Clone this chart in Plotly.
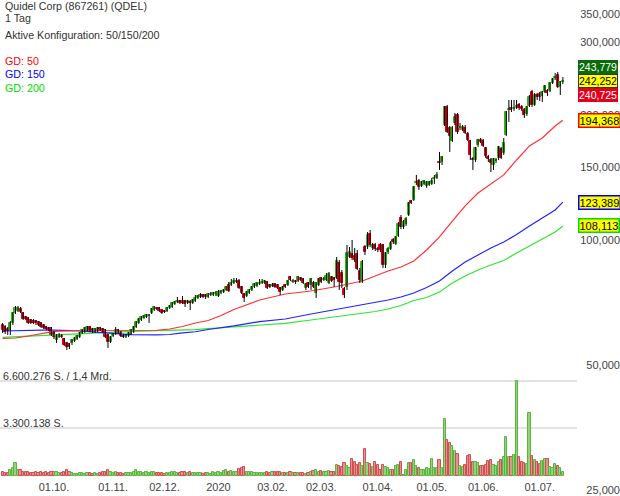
import numpy as np
import pandas as pd
import plotly.graph_objects as go

# ---------------- data ----------------
open_ = [62.40, 61.71, 61.03, 60.70, 63.10, 66.70, 67.45, 68.20, 66.70, 65.24,
         64.88, 64.16, 63.80, 63.80, 63.45, 63.10, 62.40, 61.71, 61.37, 61.37,
         60.03, 57.42, 58.39, 58.71, 57.74, 56.47, 56.16, 56.47, 57.10, 57.74,
         58.39, 59.70, 60.03, 60.70, 61.71, 61.03, 60.03, 60.36, 61.37, 61.03,
         60.70, 59.04, 56.79, 58.71, 59.37, 60.70, 60.03, 58.71, 58.39, 58.71,
         59.37, 60.03, 61.71, 63.10, 64.16, 64.88, 65.24, 65.60, 66.70, 67.82,
         68.58, 68.58, 67.82, 67.45, 67.45, 68.58, 68.96, 70.11, 70.90, 71.29,
         71.29, 71.29, 70.50, 70.90, 70.50, 71.29, 72.49, 72.89, 73.70, 73.70,
         72.89, 73.70, 73.70, 74.11, 73.30, 74.53, 74.94, 75.78, 77.91, 77.91,
         78.78, 79.22, 79.66, 77.05, 74.11, 73.30, 74.53, 75.78, 77.05, 77.48,
         78.34, 78.78, 78.78, 79.22, 77.91, 77.48, 78.34, 77.91, 76.62, 75.78,
         77.91, 77.91, 81.44, 79.22, 79.66, 79.66, 80.99, 80.54, 76.62, 78.78,
         77.91, 78.78, 74.53, 77.91, 80.99, 80.10, 80.10, 78.78, 81.44, 80.99,
         80.99, 88.02, 83.27, 76.20, 77.05, 91.00, 92.53, 91.51, 92.53, 84.20,
         79.66, 96.19, 96.19, 103.4, 95.66, 97.27, 95.13, 97.27, 97.27, 87.05,
         93.56, 95.13, 100.0, 97.80, 102.3, 113.0, 107.5, 109.3, 114.9, 124.2,
         124.9, 137.2, 138.8, 135.0, 136.5, 135.0, 135.7, 136.5, 140.3, 141.1,
         154.2, 154.2, 189.3, 209.2, 186.2, 173.2, 191.4, 200.1, 186.2, 184.1,
         186.2, 180.1, 173.2, 156.8, 155.9, 169.4, 174.2, 173.2, 166.6, 158.5,
         155.9, 151.6, 155.0, 157.6, 165.7, 162.1, 179.1, 205.7, 208.0, 206.9,
         208.0, 211.5, 209.2, 205.7, 201.2, 210.4, 227.3, 211.5, 223.6, 224.8,
         222.4, 227.3, 228.6, 228.6, 238.9, 245.7, 249.8, 233.7, 240.3]

close = [60.70, 60.03, 60.36, 63.10, 66.70, 68.58, 68.58, 67.07, 64.52, 64.52,
         63.10, 63.10, 63.10, 63.10, 62.40, 61.71, 61.37, 61.03, 60.70, 59.04,
         58.39, 59.04, 59.04, 58.39, 55.85, 55.23, 55.23, 57.42, 58.06, 58.71,
         59.70, 60.70, 61.37, 61.71, 60.36, 60.03, 61.03, 61.37, 60.70, 60.03,
         58.39, 56.79, 58.39, 59.37, 60.70, 59.70, 58.71, 58.39, 59.04, 59.70,
         60.70, 61.71, 63.45, 64.52, 65.24, 65.60, 65.96, 65.96, 68.20, 68.96,
         68.20, 67.45, 66.70, 67.07, 68.58, 69.34, 70.50, 70.90, 71.29, 70.50,
         70.50, 70.11, 71.29, 70.50, 71.69, 72.49, 73.30, 73.70, 72.89, 72.89,
         74.11, 74.11, 74.53, 74.53, 74.94, 75.36, 75.78, 77.05, 75.36, 78.78,
         79.66, 79.66, 76.62, 74.53, 72.49, 74.94, 75.78, 77.05, 78.34, 78.78,
         78.78, 79.22, 79.66, 76.62, 77.05, 77.91, 77.05, 76.62, 74.94, 77.05,
         77.05, 79.66, 80.10, 79.66, 79.22, 81.44, 80.10, 78.78, 78.34, 77.05,
         80.54, 77.05, 78.78, 80.54, 79.22, 80.54, 81.89, 82.81, 79.66, 80.10,
         89.00, 79.22, 78.78, 73.70, 93.05, 93.56, 90.50, 89.50, 85.14, 80.10,
         88.51, 93.56, 102.8, 97.27, 97.27, 95.13, 94.61, 94.61, 87.05, 93.05,
         95.13, 98.34, 98.89, 101.7, 109.3, 107.5, 110.5, 112.4, 122.8, 122.8,
         134.2, 138.0, 134.2, 138.0, 138.8, 138.0, 138.0, 138.8, 141.1, 143.5,
         153.3, 158.5, 209.2, 182.1, 178.1, 186.2, 197.9, 182.1, 187.2, 187.2,
         181.1, 174.2, 160.3, 155.9, 166.6, 174.2, 172.3, 168.5, 159.4, 156.8,
         153.3, 156.8, 155.9, 167.6, 157.6, 171.3, 203.5, 206.9, 205.7, 208.0,
         210.4, 208.0, 206.9, 200.1, 209.2, 221.1, 211.5, 223.6, 221.1, 221.1,
         227.3, 235.0, 226.1, 238.9, 244.3, 247.0, 233.7, 240.3, 242.252]

high = [63.10, 62.40, 61.71, 63.80, 67.07, 69.34, 69.34, 68.96, 67.07, 65.60,
        65.24, 64.52, 64.52, 64.16, 63.80, 63.45, 62.75, 62.05, 61.71, 61.71,
        60.36, 59.37, 59.70, 59.37, 58.06, 56.79, 56.47, 57.74, 58.39, 59.04,
        60.03, 61.03, 61.71, 62.05, 62.05, 61.37, 61.37, 61.71, 61.71, 61.37,
        61.03, 59.37, 58.71, 59.70, 61.71, 61.03, 60.36, 59.37, 59.37, 60.03,
        61.03, 62.05, 63.80, 64.88, 65.60, 65.96, 66.33, 66.33, 68.58, 69.34,
        68.96, 68.96, 68.20, 67.82, 68.96, 69.73, 70.90, 71.29, 72.89, 71.69,
        73.30, 71.69, 71.69, 71.69, 72.09, 73.70, 73.70, 74.53, 74.11, 74.11,
        74.53, 74.94, 74.94, 75.36, 75.78, 75.78, 76.20, 77.48, 79.22, 80.54,
        80.99, 80.99, 80.54, 77.48, 74.53, 75.36, 76.20, 77.48, 78.78, 79.22,
        80.54, 80.54, 80.10, 79.66, 78.34, 78.78, 78.78, 78.34, 77.05, 77.48,
        78.34, 80.10, 81.89, 80.54, 80.10, 81.89, 81.44, 80.99, 78.78, 79.22,
        80.99, 79.66, 79.22, 80.99, 81.44, 81.44, 83.27, 83.73, 81.89, 81.44,
        91.00, 89.50, 84.67, 77.05, 97.27, 96.19, 100.0, 95.66, 94.61, 85.61,
        89.50, 97.27, 104.5, 105.7, 98.34, 98.34, 96.19, 98.34, 97.80, 93.56,
        96.19, 99.45, 101.1, 102.3, 110.5, 114.9, 111.8, 113.6, 123.5, 124.9,
        135.0, 143.5, 140.3, 138.8, 139.5, 138.8, 138.8, 141.1, 143.5, 145.8,
        163.0, 159.4, 210.4, 211.5, 188.2, 188.2, 202.3, 202.3, 191.4, 189.3,
        189.3, 182.1, 174.2, 158.5, 167.6, 175.2, 176.1, 175.2, 167.6, 160.3,
        157.6, 157.6, 157.6, 168.5, 167.6, 176.1, 204.6, 217.5, 217.5, 217.5,
        217.5, 213.9, 211.5, 208.0, 210.4, 223.6, 229.9, 226.1, 226.1, 227.3,
        228.6, 236.3, 231.1, 240.3, 245.7, 252.5, 253.9, 241.6, 247.0]

low = [59.70, 59.37, 59.04, 59.04, 62.40, 66.33, 67.07, 66.70, 64.16, 64.16,
       62.75, 62.75, 62.75, 62.40, 62.05, 61.37, 61.03, 60.70, 60.36, 58.71,
       57.74, 56.47, 58.06, 58.06, 55.54, 54.32, 54.62, 55.85, 56.79, 57.42,
       58.06, 59.37, 59.70, 60.36, 60.03, 59.70, 59.70, 60.03, 60.36, 59.70,
       58.06, 54.93, 56.47, 58.39, 59.04, 59.37, 58.39, 58.06, 58.06, 58.39,
       59.04, 59.70, 61.37, 62.75, 63.80, 64.52, 64.88, 63.10, 66.33, 67.45,
       67.82, 67.07, 66.33, 66.70, 67.07, 68.20, 68.58, 69.73, 70.50, 70.11,
       70.11, 68.96, 70.11, 67.82, 70.11, 70.90, 72.09, 72.49, 72.49, 72.09,
       72.49, 73.30, 73.30, 73.30, 72.89, 74.11, 74.53, 75.36, 74.94, 77.48,
       78.34, 78.78, 76.20, 74.11, 70.90, 72.89, 74.11, 75.36, 76.62, 77.05,
       77.91, 78.34, 78.34, 76.20, 76.62, 77.05, 76.62, 76.20, 73.70, 75.36,
       76.62, 77.48, 79.66, 78.78, 78.34, 79.22, 79.66, 78.34, 75.78, 76.62,
       75.78, 76.62, 72.49, 77.48, 78.78, 79.66, 79.66, 78.34, 79.22, 77.05,
       80.54, 75.78, 76.62, 72.49, 75.78, 90.50, 89.50, 88.51, 84.67, 78.78,
       78.78, 92.02, 95.13, 96.19, 94.61, 94.09, 93.56, 93.56, 85.61, 85.61,
       92.53, 94.61, 97.80, 97.27, 101.7, 106.3, 106.3, 108.1, 114.2, 122.1,
       124.2, 135.7, 132.0, 134.2, 135.7, 133.5, 135.0, 135.7, 136.5, 140.3,
       147.5, 151.6, 188.2, 181.1, 163.0, 172.3, 189.3, 180.1, 184.1, 183.1,
       180.1, 173.2, 155.9, 147.5, 154.2, 167.6, 171.3, 167.6, 157.6, 154.2,
       145.8, 147.5, 153.3, 155.9, 156.8, 160.3, 178.1, 192.5, 203.5, 204.6,
       206.9, 205.7, 204.6, 196.8, 199.0, 209.2, 209.2, 210.4, 217.5, 216.3,
       215.1, 226.1, 222.4, 227.3, 237.6, 243.0, 232.4, 223.6, 237.6]

# daily volume, millions of shares
volume_m = [0.25, 0.20, 0.22, 0.40, 0.55, 0.88, 0.45, 0.40, 0.30, 0.25,
            0.30, 0.22, 0.20, 0.25, 0.22, 0.28, 0.20, 0.25, 0.22, 0.30,
            0.25, 0.28, 0.18, 0.20, 0.30, 0.40, 0.30, 0.20, 0.15, 0.15,
            0.20, 0.18, 0.15, 0.20, 0.18, 0.15, 0.20, 0.15, 0.18, 0.25,
            0.30, 0.45, 0.30, 0.20, 0.30, 0.22, 0.20, 0.15, 0.20, 0.18,
            0.20, 0.25, 0.40, 0.30, 0.25, 0.22, 0.25, 0.20, 0.30, 0.25,
            0.20, 0.22, 0.18, 0.15, 0.20, 0.22, 0.30, 0.25, 0.20, 0.22,
            0.25, 0.30, 0.20, 0.28, 0.22, 0.20, 0.18, 0.18, 0.15, 0.18,
            0.20, 0.15, 0.30, 0.20, 0.25, 0.20, 0.35, 0.42, 0.30, 0.35,
            0.30, 0.25, 0.46, 0.58, 0.65, 0.30, 0.25, 0.25, 0.22, 0.20,
            0.20, 0.18, 0.20, 0.25, 0.20, 0.30, 0.28, 0.30, 0.30, 0.20,
            0.22, 0.20, 0.28, 0.20, 0.18, 0.22, 0.18, 0.20, 0.15, 0.22,
            0.30, 0.35, 0.40, 0.30, 0.38, 0.25, 0.30, 0.35, 0.30, 0.25,
            0.78, 0.72, 0.65, 0.90, 0.70, 0.55, 1.15, 0.95, 0.75, 0.90,
            0.72, 1.85, 0.92, 0.82, 0.65, 1.00, 0.75, 0.45, 0.75, 0.65,
            0.55, 0.40, 0.42, 0.70, 0.75, 0.95, 0.05, 0.45, 0.88, 0.92,
            1.10, 0.68, 0.55, 0.45, 0.42, 0.55, 0.50, 1.20, 0.55, 0.55,
            1.10, 0.55, 3.95, 2.50, 2.30, 2.10, 1.75, 1.50, 0.70, 0.65,
            0.75, 1.40, 1.45, 0.95, 0.95, 0.90, 0.70, 0.70, 0.75, 1.05,
            1.10, 0.75, 0.70, 0.95, 1.10, 1.30, 2.70, 1.35, 1.30, 1.45,
            6.600276, 1.30, 0.95, 0.90, 0.85, 4.40, 1.40, 1.10, 1.00, 0.85,
            1.05, 1.20, 1.20, 0.65, 0.55, 0.80, 0.70, 0.55, 0.30]

# moving averages (GD 50 / 150 / 200) read at sampled trading-day positions
ma_idx = [0, 5, 10, 15, 20, 30, 40, 50, 60, 65, 70, 75, 80, 85, 90, 100, 110, 120,
          130, 140, 145, 150, 155, 160, 165, 170, 175, 180, 185, 190, 195, 200,
          205, 210, 215, 218]
ma50 = [57.96, 58.06, 58.71, 59.37, 60.20, 60.53, 60.60, 60.53, 60.60, 61.03,
        61.88, 63.10, 63.98, 65.78, 68.01, 71.69, 74.11, 75.36, 77.26, 79.66,
        81.89, 84.20, 86.09, 89.00, 94.61, 101.7, 111.1, 120.8, 129.8, 136.5,
        143.5, 155.9, 168.5, 176.1, 188.2, 194.368]
ma150 = [60.36, 60.50, 60.60, 60.63, 60.63, 60.43, 59.70, 59.14, 59.04, 59.20,
         59.70, 60.10, 60.87, 61.37, 62.09, 63.59, 64.52, 66.33, 68.01, 69.73,
         70.70, 71.69, 72.89, 74.53, 76.84, 79.66, 84.20, 88.51, 92.02, 95.66,
         98.89, 103.1, 108.1, 113.0, 118.1, 123.389]
ma200 = [58.29, 58.49, 58.71, 58.91, 59.11, 59.53, 59.97, 60.26, 60.50, 60.57,
         60.63, 60.83, 61.13, 61.44, 61.71, 62.19, 62.99, 64.16, 65.42, 66.51,
         67.26, 68.20, 69.54, 71.49, 72.69, 74.94, 78.78, 81.89, 84.67, 87.05,
         89.25, 93.05, 96.73, 100.6, 104.5, 108.113]

# price boxes on the right
quote_vals = [243.779, 242.252, 240.725]
ma_last = [194.368, 123.389, 108.113]

# axis ticks (250,000 lies hidden under the quote boxes in the reference)
price_ticks = [25, 50, 100, 150, 200, 300, 350]
vol_max = 6600276
vol_tick_text = ["3.300.138 S.", "6.600.276 S. / 1,4 Mrd."]
tick_dates = ["2019-10-01", "2019-11-01", "2019-12-02", "2020-01-02", "2020-02-03",
              "2020-03-02", "2020-04-01", "2020-05-01", "2020-06-01", "2020-07-01"]
tick_text = ["01.10.", "01.11.", "02.12.", "2020", "03.02.", "02.03.", "01.04.",
             "01.05.", "01.06.", "01.07."]
holidays = ["2019-11-28", "2019-12-25", "2020-01-01", "2020-01-20", "2020-02-17",
            "2020-04-10", "2020-05-25", "2020-07-03"]

# ---------------- build ----------------
dates = pd.bdate_range("2019-09-03", "2020-07-15")
dates = dates[~dates.isin(pd.to_datetime(holidays))]
n = len(close)
dates = dates[:n]
xs = list(range(n))
tick_idx = [int(np.where(dates == pd.Timestamp(d))[0][0]) for d in tick_dates]

GREEN = "#3ab41c"
RED = "#e1001a"
up = [c >= o for o, c in zip(open_, close)]
body_col = [GREEN if u else RED for u in up]
vol_fill = ["#92d47e" if u else "#e69090" for u in up]
vol_line = ["#5cb43e" if u else "#cf5050" for u in up]

FONT = "Arial, Liberation Sans, Helvetica, sans-serif"

fig = go.Figure()

# moving averages
for vals, col in [(ma200, "#2ee62e"), (ma150, "#2222ff"), (ma50, "#ff3030")]:
    fig.add_trace(go.Scatter(x=ma_idx, y=vals, mode="lines",
                             line=dict(color=col, width=1.2), hoverinfo="skip",
                             xaxis="x", yaxis="y"))

# wicks
wx, wy = [], []
for i in range(n):
    wx += [i, i, None]
    wy += [low[i], high[i], None]
fig.add_trace(go.Scatter(x=wx, y=wy, mode="lines", line=dict(color="#000000", width=1),
                         hoverinfo="skip", xaxis="x", yaxis="y"))

# candle bodies
fig.add_trace(go.Bar(x=xs, y=[abs(c - o) for o, c in zip(open_, close)],
                     base=[min(o, c) for o, c in zip(open_, close)],
                     width=0.8, marker=dict(color=body_col, line=dict(color=body_col, width=1)),
                     hoverinfo="skip", xaxis="x", yaxis="y"))

# volume
fig.add_trace(go.Bar(x=xs, y=[v * 1e6 for v in volume_m], width=0.85,
                     marker=dict(color=vol_fill, line=dict(color=vol_line, width=1)),
                     hoverinfo="skip", xaxis="x", yaxis="y2"))

fmt = lambda v: f"{v:.3f}".replace(".", ",")

annotations = []
# header texts
hdr = [("Quidel Corp (867261) (QDEL)", 6, "#333333"),
       ("1 Tag", 17.5, "#333333"),
       ("Aktive Konfiguration: 50/150/200", 35.5, "#333333"),
       ("GD: 50", 61, "#ff0000"),
       ("GD: 150", 74, "#0000ff"),
       ("GD: 200", 88, "#00dd00")]
for txt, ypx, col in hdr:
    annotations.append(dict(text=txt, xref="paper", yref="paper", x=3 / 620, y=1 - ypx / 496,
                            xanchor="left", yanchor="middle", showarrow=False,
                            font=dict(size=10.7, color=col, family=FONT)))

# volume scale labels (left, above the grid lines)
for txt, ypx in zip(vol_tick_text, [423, 376]):
    annotations.append(dict(text=txt, xref="paper", yref="paper", x=1 / 620, y=1 - ypx / 496,
                            xanchor="left", yanchor="middle", showarrow=False,
                            font=dict(size=10.7, color="#333333", family=FONT)))

# quote boxes (stacked)
box_x = 578 / 620
q_style = [("#0b6b0b", "#ffffff", "#0b6b0b", 12.2),
           ("#ffff00", "#000000", "#333333", -0.5),
           ("#e1001a", "#ffffff", "#e1001a", -13.2)]
for v, (bg, fc, bc, sh) in zip(quote_vals, q_style):
    annotations.append(dict(text=fmt(v), xref="paper", yref="y", x=box_x, y=np.log10(v),
                            xanchor="left", yanchor="middle", yshift=sh, showarrow=False,
                            bgcolor=bg, bordercolor=bc, borderwidth=1, borderpad=0,
                            font=dict(size=10.5, color=fc, family=FONT)))
for v, bc in zip(ma_last, ["#ff0000", "#0000ff", "#00dd00"]):
    annotations.append(dict(text=fmt(v), xref="paper", yref="y", x=box_x, y=np.log10(v),
                            xanchor="left", yanchor="middle", showarrow=False,
                            bgcolor="#ffff00", bordercolor=bc, borderwidth=1.5, borderpad=0,
                            font=dict(size=11, color="#000000", family=FONT)))

# volume axis: baseline at pixel 476, 6.6M at pixel ~381
vol_per_px = 6620000 / 95.3
fig.update_layout(
    template="none",
    width=620, height=496,
    margin=dict(l=0, r=0, t=0, b=0),
    paper_bgcolor="white", plot_bgcolor="rgba(0,0,0,0)",
    showlegend=False, barmode="overlay", bargap=0,
    font=dict(family=FONT, size=11, color="#444444"),
    xaxis=dict(domain=[0, 577 / 620], range=[-1.01, 223.5], anchor="y2",
               tickmode="array", tickvals=tick_idx, ticktext=tick_text,
               showgrid=False, zeroline=False, showline=False, ticks="",
               ticklabelstandoff=3,
               automargin=False, tickfont=dict(size=11, color="#444444")),
    yaxis=dict(type="log", domain=[0, 1], range=[1.38313, 2.57831],
               anchor="free", position=1.0, side="left",
               tickmode="array", tickvals=price_ticks, ticktext=[fmt(v) for v in price_ticks],
               showgrid=False, zeroline=False, showline=False, ticks="",
               automargin=False, tickfont=dict(size=11, color="#444444")),
    yaxis2=dict(domain=[20 / 496, 136 / 496], range=[0, vol_per_px * 116], anchor="x",
                side="left", tickmode="array", tickvals=[vol_max / 2, vol_max],
                showticklabels=False,
                showgrid=True, gridcolor="#e2e2e2", gridwidth=2,
                zeroline=False, showline=False, ticks="", automargin=False),
    annotations=annotations,
)

fig.write_html("out.html")
